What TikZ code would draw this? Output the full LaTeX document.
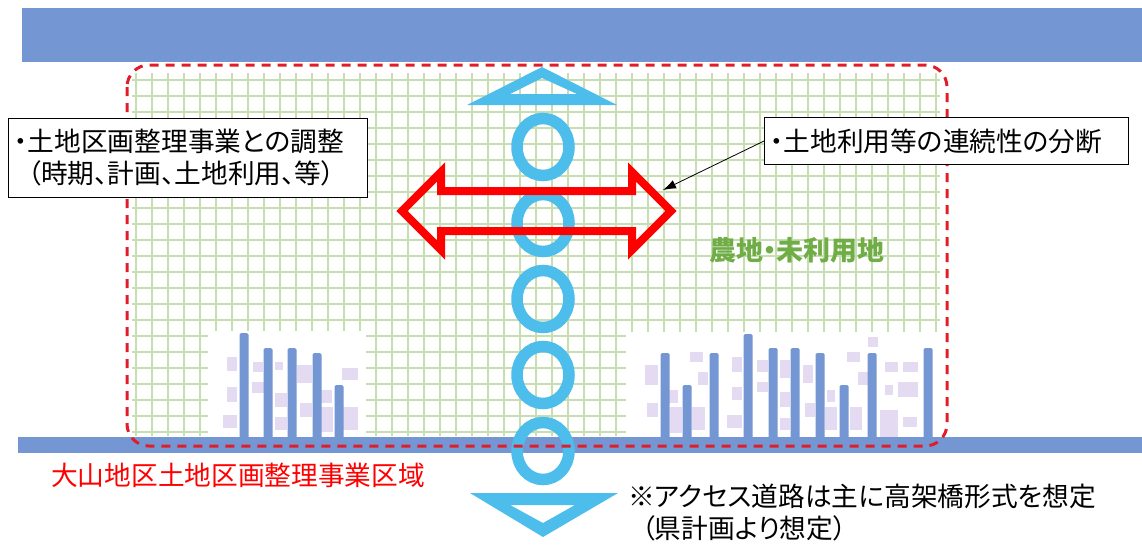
\documentclass[tikz,border=0pt]{standalone}
\usepackage{fontspec}
\usepackage{xcolor}
\usepackage{tikz}
\usetikzlibrary{arrows.meta}

\newfontfamily\jp[RawFeature=+palt]{Noto Sans CJK JP}

\definecolor{road}{RGB}{116,150,210}
\definecolor{gridgreen}{RGB}{198,222,176}
\definecolor{lilac}{RGB}{228,218,242}
\definecolor{sky}{RGB}{77,190,236}
\definecolor{areared}{RGB}{225,30,40}
\definecolor{farmgreen}{RGB}{112,173,71}

\begin{document}
\begin{tikzpicture}[x=1pt,y=-1pt,
        jptext/.style={font=\jp\fontsize{26.7}{32}\selectfont, inner sep=0pt},
        notebox/.style={draw, rectangle, line width=1pt, fill=white, anchor=north west,
            align=left, inner xsep=6pt, font=\jp\fontsize{26.7}{32}\selectfont},
        ring/.style={draw=sky, line width=11.5pt}]
    \useasboundingbox (0,0) rectangle (1142,547);

    % farm land grid
    \foreach \i in {0,...,50}
        \draw[gridgreen, line width=1.3pt] (136+16*\i,73) -- (136+16*\i,436);
    \foreach \j in {0,...,22}
        \draw[gridgreen, line width=1.3pt] (132,80+16*\j) -- (940,80+16*\j);

    % built-up blocks
    \fill[white] (208,331) rectangle (366,437);
    \fill[white] (626,332) rectangle (941,437);
    \foreach \a/\b/\c/\d in {227/357/237/371, 253/362/263/372, 227/387/237/402,
            252/382/265/393, 223/415/237/428, 275/362/283/370, 275/393/287/407,
            275/417/287/430, 297/365/312/383, 300/403/312/417, 320/390/332/403,
            320/407/333/432, 342/368/358/380, 343/407/358/430,
            645/365/658/385, 647/403/658/417, 668/390/678/403, 670/407/682/433,
            690/352/703/362, 698/372/708/385, 692/407/705/430, 732/357/742/372,
            732/387/742/400, 727/415/742/428, 757/360/768/372, 757/382/768/392,
            780/360/790/378, 780/392/790/407, 780/418/790/430, 803/365/813/383,
            805/403/815/417, 827/390/835/402, 825/407/837/430, 847/352/860/362,
            850/407/862/430, 868/337/878/347, 858/372/868/385, 885/362/898/372,
            885/385/893/395, 880/410/898/437, 903/362/918/372, 898/382/918/397,
            903/417/917/427}
        \fill[lilac] (\a,\b) rectangle (\c,\d);

    % roads
    \fill[road] (22,8) rectangle (1142,62);
    \fill[road] (18,437) rectangle (1142,453);

    % buildings
    \foreach \x/\t in {244/333, 268/348, 292/348, 317/353, 339/385,
            665/353, 687/385, 714/353, 748/334, 773/348, 795/348,
            820/353, 844/385, 872/353, 928/348}
        \fill[road, rounded corners=1.5pt] (\x-4.5,\t) rectangle (\x+4.5,440);

    % access road
    \fill[sky, even odd rule] (542,67) -- (617,105) -- (467,105) -- cycle
        (542,78) -- (577,94) -- (510,94) -- cycle;
    \foreach \y in {147,223,299,375,451}
        \draw[ring] (543,\y) ellipse [x radius=26, y radius=28.5];
    \fill[sky, even odd rule] (470,493) -- (618,493) -- (543,537) -- cycle
        (510,505) -- (575,505) -- (543,523) -- cycle;

    % project area
    \draw[areared, line width=3pt, dash pattern=on 9pt off 7pt, rounded corners=22pt]
        (127,65) rectangle (947,446);

    % severed land use
    \draw[red, line width=8pt] (402,211) -- (441,172) -- (441,191) -- (632,191)
        -- (632,172) -- (671,211) -- (632,250) -- (632,231) -- (441,231)
        -- (441,250) -- cycle;
    \coordinate (headpt) at (663,190);

    \node[notebox, minimum width=359pt, minimum height=79pt, text width=347pt] (adjust)
        at (8,118) {・土地区画整理事業との調整\\\hspace*{.5em}（時期、計画、土地利用、等）};
    \node[notebox, minimum width=364pt, minimum height=47pt, text width=352pt] (cont)
        at (764,117) {・土地利用等の連続性の分断};
    \draw[-{Latex[length=13pt,width=9pt]}, line width=0.8pt] (cont.west) -- (headpt);

    \node[jptext, text=farmgreen, font=\jp\bfseries\fontsize{27}{32}\selectfont, anchor=west] (farm)
        at (709,250) {農地・未利用地};
    \node[jptext, text=red, anchor=west] (area) at (51,475) {大山地区土地区画整理事業区域};
    \node[jptext, anchor=north west, align=left] (note) at (628,484)
        {※アクセス道路は主に高架橋形式を想定\\\hspace*{.5em}（県計画より想定）};
\end{tikzpicture}
\end{document}
